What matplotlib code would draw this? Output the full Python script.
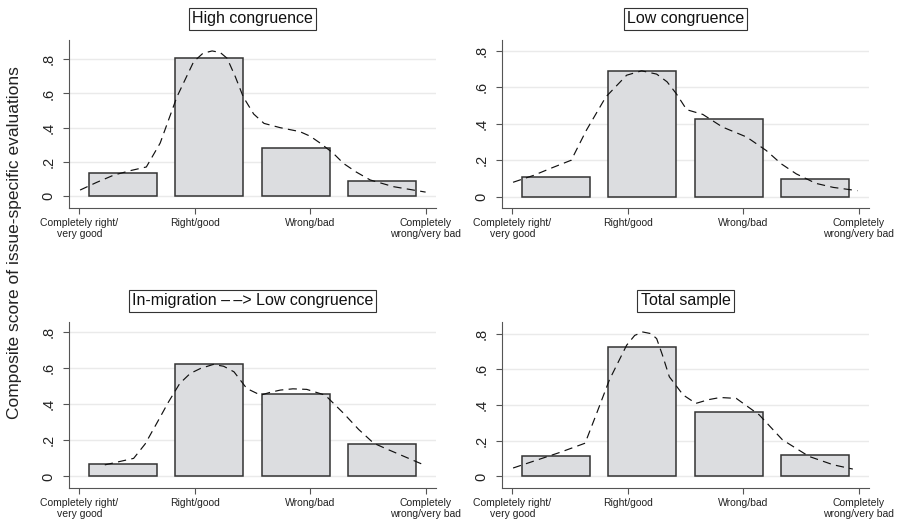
import numpy as np
import matplotlib
matplotlib.use("Agg")
import matplotlib.pyplot as plt

plt.rcParams['font.family'] = ['Liberation Sans', 'DejaVu Sans']

categories = ["Completely right/\nvery good", "Right/good", "Wrong/bad", "Completely\nwrong/very bad"]
cat_values = [1, 2, 3, 4]
y_ticks = [0, 0.2, 0.4, 0.6, 0.8]
y_tick_labels = ["0", ".2", ".4", ".6", ".8"]

titles = ["High congruence", "Low congruence", "In-migration \u2013\u2009\u2013> Low congruence", "Total sample"]

# histogram densities (4 bins between 1 and 4)
dens_high = [0.135, 0.81, 0.28, 0.09]
dens_low = [0.11, 0.69, 0.425, 0.095]
dens_inmig = [0.07, 0.62, 0.455, 0.18]
dens_total = [0.115, 0.725, 0.36, 0.12]

# kernel density curves
kx_high = [1.006, 1.15, 1.30, 1.45, 1.58, 1.70, 1.845, 1.99, 2.07, 2.15, 2.22, 2.28, 2.35, 2.42, 2.51, 2.60, 2.74, 2.91, 3.00, 3.09, 3.20, 3.29, 3.40, 3.52, 3.72, 4.0]
ky_high = [0.035, 0.08, 0.123, 0.15, 0.17, 0.31, 0.58, 0.786, 0.835, 0.849, 0.84, 0.806, 0.70, 0.58, 0.48, 0.425, 0.40, 0.377, 0.35, 0.308, 0.25, 0.19, 0.14, 0.094, 0.055, 0.023]

kx_low = [1.006, 1.18, 1.35, 1.51, 1.64, 1.81, 1.99, 2.12, 2.25, 2.34, 2.42, 2.51, 2.65, 2.82, 3.03, 3.20, 3.33, 3.46, 3.63, 3.78, 3.99]
ky_low = [0.079, 0.116, 0.16, 0.20, 0.363, 0.547, 0.666, 0.69, 0.672, 0.63, 0.565, 0.477, 0.451, 0.382, 0.327, 0.253, 0.18, 0.125, 0.073, 0.051, 0.033]

kx_inmig = [1.22, 1.47, 1.57, 1.67, 1.77, 1.87, 1.96, 2.05, 2.16, 2.25, 2.34, 2.45, 2.57, 2.65, 2.74, 2.85, 2.97, 3.13, 3.29, 3.42, 3.55, 3.67, 3.78, 3.97]
ky_inmig = [0.064, 0.10, 0.18, 0.294, 0.41, 0.515, 0.57, 0.598, 0.62, 0.61, 0.579, 0.487, 0.45, 0.465, 0.478, 0.485, 0.482, 0.45, 0.349, 0.26, 0.184, 0.15, 0.12, 0.068]

kx_total = [1.006, 1.15, 1.41, 1.63, 1.73, 1.84, 1.99, 2.06, 2.13, 2.20, 2.25, 2.30, 2.36, 2.48, 2.59, 2.70, 2.80, 2.94, 3.14, 3.34, 3.57, 3.78, 3.95]
ky_total = [0.047, 0.078, 0.134, 0.186, 0.353, 0.54, 0.735, 0.79, 0.809, 0.80, 0.772, 0.68, 0.558, 0.456, 0.409, 0.43, 0.442, 0.437, 0.344, 0.205, 0.112, 0.065, 0.041]

panels = [
    (titles[0], dens_high, kx_high, ky_high, (-0.07, 0.913)),
    (titles[1], dens_low, kx_low, ky_low, (-0.062, 0.859)),
    (titles[2], dens_inmig, kx_inmig, ky_inmig, (-0.064, 0.855)),
    (titles[3], dens_total, kx_total, ky_total, (-0.065, 0.865)),
]

W, H = 898, 527
fig = plt.figure(figsize=(W / 100, H / 100), dpi=100)
fig.patch.set_facecolor('white')

# axes rectangles in pixels: left, top, right, bottom
rects = [(69, 40, 436, 208), (502, 40, 869, 208), (69, 322, 436, 488), (502, 322, 869, 488)]

edges = np.linspace(1, 4, 5)
centers = (edges[:-1] + edges[1:]) / 2

spine_col = '#555555'
for (title, dens, kx, ky, ylim), (l, t, r, b) in zip(panels, rects):
    ax = fig.add_axes([l / W, 1 - b / H, (r - l) / W, (b - t) / H])
    ax.set_xlim(0.91, 4.09)
    ax.set_ylim(*ylim)
    ax.set_yticks(y_ticks)
    ax.set_yticklabels(y_tick_labels, rotation=90, va='center', fontsize=10.5)
    ax.set_xticks(cat_values)
    ax.set_xticklabels(categories, fontsize=7.5, linespacing=1.1)
    ax.grid(axis='y', color='#eaeaea', lw=1.0)
    ax.set_axisbelow(True)
    for s in ['top', 'right']:
        ax.spines[s].set_visible(False)
    for s in ['left', 'bottom']:
        ax.spines[s].set_color(spine_col)
        ax.spines[s].set_linewidth(0.8)
    ax.tick_params(axis='y', length=4.5, width=0.8, color=spine_col, pad=5, labelcolor='#222222')
    ax.tick_params(axis='x', length=4.5, width=0.8, color=spine_col, pad=3, labelcolor='#222222')
    ax.bar(centers, dens, width=0.59, color='#dcdde0', edgecolor='#333333', linewidth=1.1, zorder=2)
    ax.plot(kx, ky, color='#111111', lw=0.85, dashes=(7, 4.5), zorder=3)
    ax.annotate(title, xy=(0.5, 1), xycoords='axes fraction', xytext=(0, 21),
                textcoords='offset pixels', ha='center', va='center', fontsize=11.5,
                color='#111111',
                bbox=dict(boxstyle='square,pad=0.2', fc='white', ec='#333333', lw=0.8))

fig.text(15 / W, 1 - 243 / H, "Composite score of issue-specific evaluations", rotation=90,
         ha='center', va='center', fontsize=12.5, color='#222222')

fig.savefig('out.png', dpi=100)
